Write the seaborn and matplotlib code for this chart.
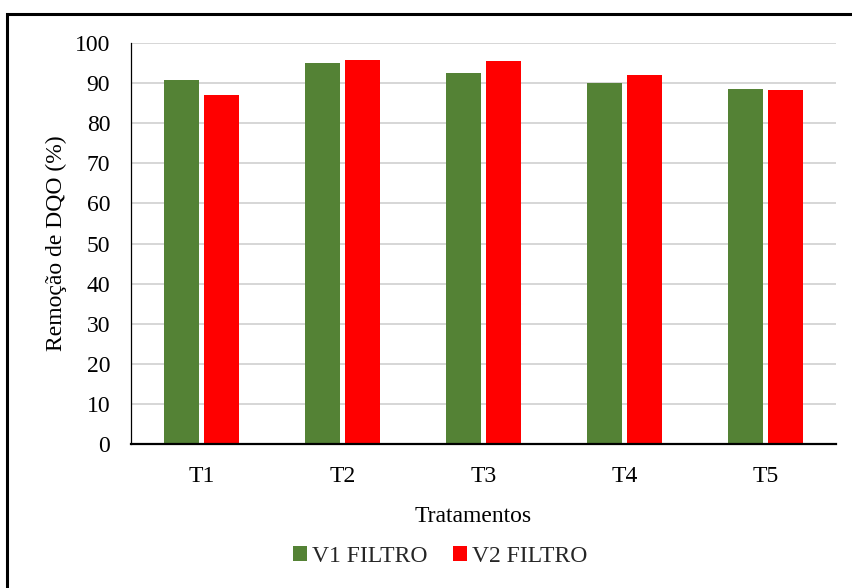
import matplotlib
matplotlib.use("Agg")
import matplotlib.pyplot as plt
from matplotlib.patches import Rectangle
import pandas as pd
import seaborn as sns

# COD removal per treatment for the two filter vessels
tratamentos = ["T1", "T2", "T3", "T4", "T5"]
v1_filtro = [90.7, 94.9, 92.4, 90.0, 88.5]
v2_filtro = [87.1, 95.7, 95.4, 91.9, 88.4]
series = ["V1 FILTRO", "V2 FILTRO"]
cores = ["#548235", "#FF0000"]

df = pd.DataFrame({
    "Tratamentos": tratamentos * 2,
    "Remocao": v1_filtro + v2_filtro,
    "Serie": [series[0]] * len(tratamentos) + [series[1]] * len(tratamentos),
})

sns.set_theme(style="white")
plt.rcParams["font.family"] = ["Liberation Serif", "DejaVu Serif"]

FS = 17

fig = plt.figure(figsize=(8.53, 5.88), dpi=100)
ax = fig.add_axes([131 / 853, 1 - 444 / 588, (836 - 131) / 853, (444 - 43) / 588])

sns.barplot(
    data=df, x="Tratamentos", y="Remocao", hue="Serie",
    palette=cores, saturation=1, width=0.57, gap=0.14, linewidth=0,
    ax=ax, legend=True,
)

ax.set_ylim(0, 100)
ax.set_xlim(-0.5, len(tratamentos) - 0.5)
ax.set_yticks(range(0, 101, 10))
ax.yaxis.grid(True, color="#d0d0d0", linewidth=1.2)
ax.set_axisbelow(True)
ax.tick_params(axis="both", length=0, labelsize=FS, colors="black")
ax.tick_params(axis="y", pad=15)
ax.tick_params(axis="x", pad=16)

for s in ["top", "right"]:
    ax.spines[s].set_visible(False)
ax.spines["left"].set_color("black")
ax.spines["left"].set_linewidth(0.9)
ax.spines["bottom"].set_color("black")
ax.spines["bottom"].set_linewidth(1.6)

ax.set_ylabel("Remoção de DQO (%)", fontsize=FS, color="black")
ax.set_xlabel("Tratamentos", fontsize=FS, color="black")
ax.yaxis.set_label_coords(-(131 - 56) / 705, 0.5)
ax.xaxis.set_label_coords((473 - 131) / 705, -(516 - 444) / 401)
ax.xaxis.label.set_va("center")
ax.yaxis.label.set_va("center")

handles, labels = ax.get_legend_handles_labels()
ax.legend_.remove()
fig.legend(
    handles, labels, loc="center", bbox_to_anchor=(440 / 853, 1 - 556 / 588),
    ncol=2, frameon=False, fontsize=FS, handlelength=0.6, handleheight=0.6,
    handletextpad=0.2, columnspacing=1.1,
)

# outer frame around the chart area
fig.patches.append(Rectangle(
    (7 / 853, -0.05), 1.05, 1 - 14 / 588 + 0.05,
    transform=fig.transFigure, fill=False, edgecolor="black", linewidth=2.2,
))

fig.savefig("out.png", dpi=100)
